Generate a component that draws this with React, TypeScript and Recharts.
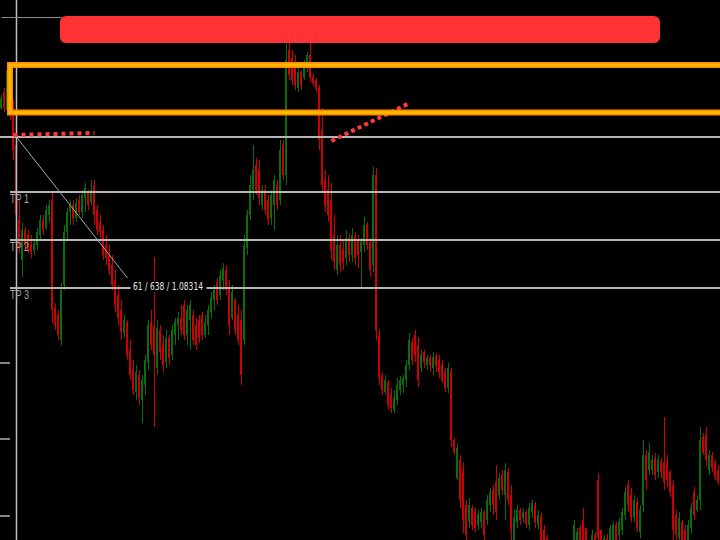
import { ComposedChart, Bar, XAxis, YAxis, ReferenceLine, ReferenceArea } from 'recharts'

// price levels, in chart points (0 = bottom edge of the window)
const opens = [
  432, 448, 430, 465, 435, 395, 320, 280, 310, 305, // 0
  295, 290, 295, 305, 320, 312, 325, 340, 232, 225, // 10
  200, 255, 308, 328, 335, 322, 340, 328, 342, 348, // 20
  338, 355, 330, 318, 310, 295, 285, 275, 260, 245, // 30
  230, 207, 218, 190, 170, 148, 165, 140, 155, 178, // 40
  218, 215, 172, 210, 195, 178, 202, 185, 205, 215, // 50
  222, 235, 205, 220, 225, 215, 220, 225, 205, 215, // 60
  228, 240, 258, 245, 260, 270, 252, 222, 240, 225, // 70
  220, 200, 292, 325, 350, 375, 370, 335, 350, 340, // 80
  322, 335, 355, 340, 395, 365, 490, 482, 475, 452, // 90
  468, 462, 472, 485, 463, 460, 452, 410, 360, 350, // 100
  340, 305, 270, 295, 290, 282, 302, 285, 304, 300, // 110
  288, 295, 315, 298, 275, 365, 205, 165, 148, 158, // 120
  145, 130, 140, 150, 155, 160, 175, 198, 205, 195, // 130
  172, 188, 175, 183, 172, 184, 180, 175, 168, 152, // 140
  168, 100, 62, 80, 70, 35, 18, 32, 28, 15, // 150
  18, 28, 20, 35, 50, 58, 45, 65, 45, 68, // 160
  45, 0, 18, 30, 22, 28, 15, 28, 35, 15, // 170
  24, 10, 2, -18, -10, -20, -30, -18, -25, -12, // 180
  -5, -8, -5, 12, 20, 12, -12, -8, 5, 60, // 190
  10, -5, 2, -5, 0, 15, 5, 10, 25, 55, // 200
  45, 22, 38, 8, 35, 85, 70, 70, 82, 68, // 210
  78, 78, 78, 68, 55, 25, 2, 18, 10, -5, // 220
  12, 48, 30, 40, 103, 105, 70, 85, 77, 70, // 230
]

const highs = [
  445, 452, 478, 470, 440, 402, 340, 317, 313, 310,
  305, 300, 312, 325, 325, 335, 340, 348, 237, 230,
  257, 315, 332, 340, 340, 342, 345, 350, 357, 350,
  360, 360, 335, 325, 315, 305, 295, 285, 270, 255,
  240, 225, 220, 200, 180, 175, 170, 165, 185, 220,
  230, 283, 220, 215, 205, 210, 205, 215, 222, 228,
  235, 240, 235, 240, 230, 222, 225, 228, 225, 235,
  248, 255, 262, 270, 277, 275, 260, 255, 242, 235,
  230, 305, 330, 365, 395, 382, 380, 355, 355, 345,
  350, 365, 360, 400, 400, 497, 497, 490, 485, 472,
  470, 480, 488, 497, 466, 462, 455, 432, 370, 365,
  357, 325, 305, 305, 300, 310, 307, 312, 308, 305,
  302, 323, 318, 302, 373, 372, 210, 168, 165, 160,
  152, 150, 162, 164, 165, 180, 207, 202, 210, 203,
  190, 190, 185, 185, 188, 187, 185, 180, 172, 177,
  172, 102, 97, 85, 77, 40, 42, 35, 32, 30,
  32, 30, 45, 52, 55, 75, 67, 70, 77, 72,
  55, 30, 35, 32, 32, 30, 37, 40, 38, 30,
  27, 15, 5, -5, -4, -15, -12, -10, -8, 0,
  -2, 20, 12, 15, 32, 12, -2, 10, 8, 67,
  10, 5, 6, 15, 18, 18, 22, 32, 53, 60,
  52, 45, 42, 35, 100, 90, 97, 85, 87, 85,
  82, 123, 85, 70, 60, 30, 28, 20, 15, 20,
  37, 53, 45, 113, 107, 113, 90, 88, 80, 75,
]

const lows = [
  430, 428, 425, 420, 380, 317, 287, 263, 290, 287,
  282, 285, 290, 300, 305, 310, 318, 217, 210, 200,
  195, 250, 300, 315, 315, 318, 325, 322, 328, 330,
  335, 315, 305, 300, 280, 275, 265, 250, 228, 215,
  200, 202, 180, 160, 145, 140, 135, 117, 145, 170,
  190, 113, 165, 180, 168, 172, 175, 180, 195, 200,
  205, 200, 195, 190, 195, 190, 197, 200, 202, 205,
  222, 230, 235, 240, 250, 245, 205, 220, 205, 195,
  155, 195, 285, 320, 340, 345, 335, 330, 325, 315,
  315, 310, 330, 335, 360, 355, 460, 455, 450, 448,
  450, 460, 468, 458, 454, 448, 390, 348, 328, 318,
  280, 270, 265, 268, 270, 275, 278, 278, 275, 272,
  253, 288, 290, 263, 268, 200, 155, 145, 145, 130,
  127, 127, 135, 145, 147, 153, 170, 175, 178, 153,
  168, 172, 170, 168, 165, 168, 162, 157, 148, 147,
  93, 85, 60, 32, 7, 0, 12, 10, 8, 10,
  12, -5, 15, 28, 25, 20, 40, 45, 20, 35,
  0, -5, 12, 15, 18, 12, 10, 22, 12, 10,
  -5, -10, -20, -25, -30, -38, -35, -30, -28, -18,
  -22, -10, -8, -10, -8, -15, -18, -15, -20, -5,
  -10, -12, -15, -8, -5, -5, 0, 5, 20, 28,
  18, 18, 8, 2, 28, 50, 65, 65, 60, 62,
  62, 50, 53, 43, 0, 0, -2, -5, -10, -8,
  7, 20, 28, 30, 85, 73, 65, 68, 60, 55,
]

const closes = [
  442, 432, 470, 430, 390, 325, 292, 310, 295, 290,
  288, 297, 308, 320, 310, 330, 335, 230, 215, 205,
  250, 308, 328, 335, 322, 337, 328, 345, 352, 335,
  350, 325, 310, 308, 285, 282, 270, 255, 235, 222,
  208, 220, 185, 165, 150, 168, 142, 160, 180, 215,
  195, 185, 212, 188, 175, 202, 182, 210, 218, 222,
  210, 205, 230, 235, 200, 195, 202, 205, 218, 230,
  242, 250, 240, 265, 272, 250, 215, 248, 210, 200,
  165, 295, 325, 355, 370, 350, 342, 350, 330, 320,
  345, 360, 335, 390, 365, 480, 465, 460, 455, 468,
  455, 475, 485, 462, 457, 451, 400, 355, 335, 325,
  290, 278, 295, 275, 278, 302, 285, 305, 282, 285,
  298, 315, 295, 270, 365, 210, 162, 150, 160, 135,
  132, 142, 155, 160, 162, 175, 200, 180, 185, 160,
  185, 178, 182, 175, 183, 174, 168, 160, 152, 172,
  100, 88, 92, 40, 20, 5, 35, 15, 12, 26,
  28, 5, 40, 48, 35, 28, 62, 50, 70, 40,
  10, 22, 30, 20, 28, 16, 32, 37, 18, 25,
  0, -5, -15, -10, -22, -32, -18, -25, -12, -5,
  -15, 15, 8, -5, -3, -10, -5, 5, -12, 2,
  -5, 2, -8, 12, 15, 0, 18, 28, 48, 35,
  22, 40, 12, 30, 85, 60, 88, 80, 65, 80,
  68, 58, 60, 48, 10, 5, 22, 0, -5, 15,
  32, 25, 40, 100, 88, 80, 85, 72, 63, 58,
]

// drawn objects
const entryLevel = 403
const tpLevels = [348, 300, 252]
const tpNames = ['TP 1', 'TP 2', 'TP 3']
const zoneLow = 427.5
const zoneHigh = 475
const bannerLow = 497
const bannerHigh = 524
const leftTicks = [24, 101, 177]

const UP = '#087008'
const DOWN = '#d00000'

const data = opens.map((o, i) => ({
  i,
  wick: [lows[i], highs[i]],
  body: [Math.min(o, closes[i]), Math.max(o, closes[i])],
  up: closes[i] >= o,
}))

function Wick(props: any) {
  const { x, y, width, height, payload } = props
  if (x == null || y == null || isNaN(y)) return null
  const top = Math.min(y, y + height)
  const h = Math.abs(height)
  const cx = Math.floor(x + width / 2) + 0.5
  return <line x1={cx} x2={cx} y1={top} y2={top + h} stroke={payload.up ? UP : DOWN} strokeWidth={1} />
}

function Body(props: any) {
  const { x, y, width, height, payload } = props
  if (x == null || y == null || isNaN(y)) return null
  const top = Math.min(y, y + height)
  const h = Math.max(Math.abs(height), 1)
  const left = Math.floor(x + width / 2) - 1
  return <rect x={left} y={top} width={2} height={h} fill={payload.up ? UP : DOWN} />
}

function Banner(props: any) {
  const { x, y, width, height } = props
  return <rect x={x} y={y} width={width} height={height} rx={6} ry={6} fill="#ff3333" />
}

function OpenBox(props: any) {
  const { x, y, width, height } = props
  const left = x + 1
  const right = x + width + 20
  const d = `M${right},${y} H${left} V${y + height} H${right}`
  return (
    <g>
      <path d={d} fill="none" stroke="#ff8c00" strokeWidth={6} />
      <path d={d} fill="none" stroke="#ffb800" strokeWidth={3} />
    </g>
  )
}

function ToEdge(p: any) {
  return <line x1={p.x1 - 0.5} y1={p.y1} x2={p.x2 + 2} y2={p.y2} stroke={p.stroke} strokeWidth={p.strokeWidth} />
}

function ToLeft(p: any) {
  return <line x1={p.x1 - 1.5} y1={p.y1} x2={p.x2 - 0.5} y2={p.y2} stroke={p.stroke} strokeWidth={p.strokeWidth} />
}

function TpLabel({ viewBox, text }: any) {
  if (!viewBox) return null
  return (
    <text
      x={viewBox.x - 0.5}
      y={viewBox.y + 10.5}
      fill="#a4a4a4"
      fontSize={13.5}
      fontFamily="'Liberation Sans', Arial, sans-serif"
      textLength={19}
      lengthAdjust="spacingAndGlyphs"
    >
      {text}
    </text>
  )
}

function MeasureLabel({ viewBox }: any) {
  if (!viewBox) return null
  const x = viewBox.x + viewBox.width + 3
  const y = viewBox.y + viewBox.height
  return (
    <g>
      <rect x={x} y={y + 3} width={76} height={11} fill="#000" />
      <text
        x={x + 2.5}
        y={y + 12}
        fill="#e6e6e6"
        fontSize={10}
        fontFamily="'DejaVu Sans', sans-serif"
        textLength={70}
        lengthAdjust="spacingAndGlyphs"
      >
        61 / 638 / 1.08314
      </text>
    </g>
  )
}

export default function App() {
  return (
    <div style={{ position: 'fixed', left: 0, top: 0, width: 720, height: 540, background: '#000', overflow: 'hidden' }}>
      <ComposedChart width={720} height={540} data={data} margin={{ top: 0, right: 0, bottom: 0, left: 0 }}>
        <XAxis dataKey="i" type="category" hide />
        <XAxis dataKey="i" type="category" xAxisId="body" hide />
        <YAxis domain={[0, 540]} allowDataOverflow hide />

        <Bar dataKey="wick" shape={<Wick />} isAnimationActive={false} />
        <Bar dataKey="body" xAxisId="body" shape={<Body />} isAnimationActive={false} />

        <ReferenceLine x={5} stroke="#bdbdbd" strokeWidth={1.5} />
        <ReferenceLine segment={[{ x: 0, y: 522.5 }, { x: 20, y: 522.5 }]} stroke="#8c8c8c" strokeWidth={1} />
        {leftTicks.map((lv) => (
          <ReferenceLine
            key={lv}
            segment={[{ x: 0, y: lv }, { x: 3, y: lv }]}
            stroke="#b0b0b0"
            strokeWidth={1.5}
            shape={ToLeft}
          />
        ))}
        <ReferenceLine y={entryLevel} stroke="#b6b6b6" strokeWidth={2} />
        {tpLevels.map((lv, k) => (
          <ReferenceLine
            key={tpNames[k]}
            segment={[{ x: 3, y: lv }, { x: 239, y: lv }]}
            stroke="#b6b6b6"
            strokeWidth={2}
            shape={ToEdge}
            label={<TpLabel text={tpNames[k]} />}
          />
        ))}

        <ReferenceArea x1={20} x2={219} y1={bannerLow} y2={bannerHigh} shape={Banner} zIndex={600} />
        <ReferenceArea x1={3} y1={zoneLow} y2={zoneHigh} shape={OpenBox} zIndex={600} />

        <ReferenceLine
          segment={[{ x: 4, y: 405 }, { x: 31, y: 407 }]}
          stroke="#ff3838"
          strokeWidth={4}
          strokeDasharray="4 4"
        />
        <ReferenceLine
          segment={[{ x: 110, y: 399 }, { x: 136, y: 437 }]}
          stroke="#ff3838"
          strokeWidth={4}
          strokeDasharray="4 3.3"
        />
        <ReferenceLine
          segment={[{ x: 5, y: entryLevel }, { x: 42, y: 262 }]}
          stroke="#a8a8a8"
          strokeWidth={1}
          label={<MeasureLabel />}
        />
      </ComposedChart>
    </div>
  )
}
